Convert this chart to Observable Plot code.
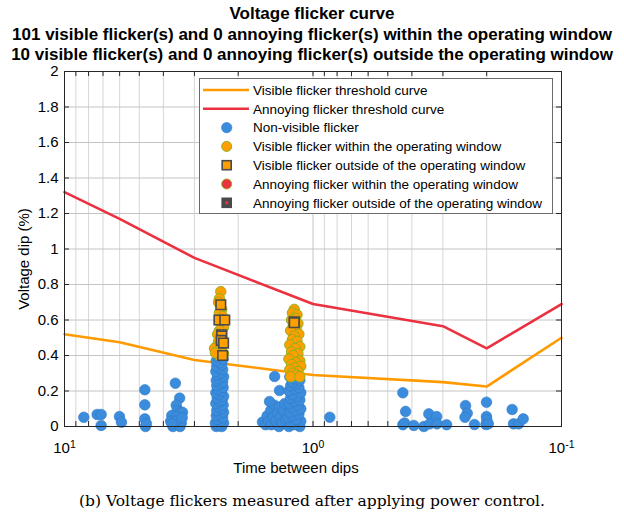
<!DOCTYPE html>
<html><head><meta charset="utf-8">
<script src="https://cdn.jsdelivr.net/npm/d3@7"></script>
<script src="https://cdn.jsdelivr.net/npm/@observablehq/plot@0.6"></script>
<style>
body{margin:0;background:#fff;}
#wrap{position:relative;width:624px;height:519px;overflow:hidden;font-family:"Liberation Sans",Arial,sans-serif;color:#000;}
.t{position:absolute;left:0;width:624px;text-align:center;font-weight:bold;font-size:17px;line-height:17px;white-space:nowrap;}
#plot{position:absolute;left:0;top:0;}
#xlabel{position:absolute;left:196px;width:200px;text-align:center;top:458px;font-size:15px;line-height:20px;}
#ylabel{position:absolute;left:24px;top:259px;font-size:15px;line-height:20px;transform:translate(-50%,-50%) rotate(-90deg);white-space:nowrap;}
#caption{position:absolute;left:0;width:624px;text-align:center;top:491px;font-family:"DejaVu Serif","Liberation Serif",serif;font-size:15.5px;line-height:20px;white-space:nowrap;}
#legend{position:absolute;left:199px;top:78px;}
</style></head>
<body>
<div id="wrap">
  <div class="t" style="top:5px">Voltage flicker curve</div>
  <div class="t" style="top:26px">101 visible flicker(s) and 0 annoying flicker(s) within the operating window</div>
  <div class="t" style="top:45.5px">10 visible flicker(s) and 0 annoying flicker(s) outside the operating window</div>
  <div id="plot"></div>
  <div id="ylabel">Voltage dip (%)</div>
  <div id="xlabel">Time between dips</div>
  <div id="caption">(b) Voltage flickers measured after applying power control.</div>
  <svg id="legend" width="354" height="136"></svg>
</div>
<script>
// ---- data ----
const curveT = [10, 6, 3, 1, 0.3, 0.2, 0.1];
const visibleThreshold = [0.52, 0.475, 0.375, 0.29, 0.25, 0.225, 0.50];
const annoyingThreshold = [1.32, 1.17, 0.95, 0.69, 0.565, 0.44, 0.69];

const xMajorTicks = [10, 1, 0.1];
const xMinorTicks = [9, 8, 7, 6, 5, 4, 3, 2, 0.9, 0.8, 0.7, 0.6, 0.5, 0.4, 0.3, 0.2];
const xTickExponents = ["1", "0", "-1"];
const yTicks = [0, 0.2, 0.4, 0.6, 0.8, 1, 1.2, 1.4, 1.6, 1.8, 2];

// non-visible flickers [time between dips, voltage dip %]
const nonVisibleScattered = [
  [8.36,0.052],[7.39,0.068],[7.12,0.068],[7.12,0.006],[6.01,0.056],[5.90,0.024],
  [4.75,0.207],[4.75,0.122],[4.75,0.043],[4.72,0.0],[4.68,0.015],
  [3.58,0.244],[3.44,0.16],[3.55,0.12],[3.52,0.09],[3.70,0.062],[3.41,0.081],[3.35,0.08],
  [3.74,0.03],[3.61,0.01],[3.48,0.04],[3.39,0.02],[3.66,0.0],[3.54,0.055],[3.43,0.0],[3.58,0.03],[3.36,0.05],[3.70,0.015],
  [0.856,0.052],
  [0.435,0.19],[0.424,0.085],[0.435,0.01],[0.428,0.02],[0.393,0.006],[0.358,0.0],[0.342,0.071],[0.339,0.015],
  [0.318,0.056],[0.317,0.015],[0.290,0.01],[0.2433,0.118],[0.2395,0.075],[0.2445,0.052],[0.224,0.011],
  [0.2004,0.137],[0.2004,0.056],[0.1998,0.038],[0.2014,0.011],[0.197,0.015],
  [0.158,0.096],[0.156,0.015],[0.1486,0.015],[0.1426,0.043]
];
const nonVisibleCluster1 = [
  [2.45,0.00],[2.33,0.00],[2.40,0.01],[2.29,0.02],[2.47,0.02],[2.36,0.03],[2.42,0.04],[2.31,0.05],[2.45,0.06],[2.38,0.07],
  [2.29,0.08],[2.44,0.09],[2.34,0.10],[2.40,0.11],[2.30,0.12],[2.46,0.13],[2.37,0.14],[2.32,0.15],[2.43,0.16],[2.29,0.17],
  [2.39,0.18],[2.46,0.19],[2.34,0.20],[2.41,0.21],[2.30,0.22],[2.44,0.23],[2.36,0.24],[2.31,0.25],[2.45,0.26],[2.38,0.27],
  [2.29,0.28],[2.42,0.29],[2.35,0.30],[2.46,0.31],[2.31,0.32],[2.40,0.33],[2.44,0.34],[2.33,0.35],[2.38,0.36],[2.45,0.37],
  [2.30,0.38],[2.41,0.39],[2.35,0.40],[2.43,0.41],[2.38,0.42]
];
const nonVisibleCluster2 = [
  [1.597,0.025],[1.55,0.01],[1.53,0.06],[1.509,0.03],[1.48,0.09],[1.469,0.01],[1.45,0.05],[1.429,0.12],[1.41,0.03],
  [1.39,0.08],[1.37,0.0],[1.36,0.11],[1.352,0.05],[1.33,0.02],[1.314,0.09],[1.30,0.13],[1.29,0.04],
  [1.427,0.282],[1.364,0.203],[1.496,0.141],
  [1.25,0.00],[1.13,0.00],[1.19,0.01],[1.23,0.02],[1.12,0.03],[1.17,0.04],[1.26,0.05],[1.21,0.06],[1.14,0.07],[1.24,0.08],
  [1.18,0.09],[1.12,0.10],[1.22,0.11],[1.15,0.12],[1.25,0.13],[1.19,0.14],[1.13,0.15],[1.23,0.16],[1.16,0.17],[1.21,0.18],
  [1.12,0.19],[1.25,0.20],[1.18,0.21],[1.14,0.22],[1.23,0.23],[1.17,0.24],[1.21,0.25],[1.13,0.26],[1.19,0.27],[1.24,0.28]
];
// visible flickers within the operating window
const visibleWithin = [
  [2.35,0.76],[2.38,0.72],[2.40,0.70],[2.33,0.66],[2.38,0.64],[2.31,0.62],[2.35,0.58],[2.29,0.56],[2.38,0.54],[2.42,0.52],
  [2.33,0.50],[2.40,0.48],[2.31,0.46],[2.45,0.45],[2.49,0.44],[2.35,0.43],[2.42,0.42],[2.29,0.41],[2.38,0.40],[2.47,0.415],
  [1.19,0.66],[1.21,0.64],[1.16,0.63],[1.18,0.61],[1.22,0.60],[1.15,0.58],[1.20,0.57],[1.17,0.55],[1.23,0.54],[1.14,0.52],
  [1.19,0.51],[1.21,0.49],[1.16,0.48],[1.24,0.46],[1.13,0.45],[1.18,0.44],[1.22,0.42],[1.15,0.41],[1.20,0.40],[1.25,0.38],
  [1.13,0.37],[1.17,0.36],[1.22,0.35],[1.12,0.34],[1.19,0.33],[1.24,0.32],[1.15,0.31],[1.21,0.30],[1.17,0.29],[1.23,0.28],[1.13,0.28]
];
// visible flickers outside the operating window
const visibleOutside = [
  [2.35,0.686],[2.39,0.60],[2.265,0.60],[2.33,0.517],[2.33,0.51],[2.34,0.485],[2.29,0.47],[2.31,0.40],
  [1.19,0.59],[1.19,0.585]
];
const legendLabels = [
  "Visible flicker threshold curve",
  "Annoying flicker threshold curve",
  "Non-visible flicker",
  "Visible flicker within the operating window",
  "Visible flicker outside of the operating window",
  "Annoying flicker within the operating window",
  "Annoying flicker outside of the operating window"
];

// ---- styles ----
const C = {
  visLine: "#ff9b00", annLine: "#eb3140",
  blue: "#3b8cdc", blueEdge: "#2f7ac6",
  orange: "#ff9f00", orangeEdge: "#8fb01e",
  sqEdge: "#4a4a4a", red: "#eb3140", dark: "#4a4a4a",
  grid: "#c4c4c4", gridMinor: "#d6d6d6", axis: "#262626"
};

const visData = curveT.map((t, i) => ({t, v: visibleThreshold[i]}));
const annData = curveT.map((t, i) => ({t, v: annoyingThreshold[i]}));
const allX = xMajorTicks.concat(xMinorTicks);
const tick = 0.028, xt = 0.955;

const chart = Plot.plot({
  width: 624, height: 519,
  marginTop: 71, marginBottom: 93, marginLeft: 64, marginRight: 63,
  style: {fontFamily: "'Liberation Sans', Arial, sans-serif", fontSize: "15px", background: "transparent", color: "#000"},
  x: {type: "log", domain: [10, 0.1]},
  y: {domain: [0, 2]},
  marks: [
    Plot.ruleX(xMinorTicks, {x: d => d, stroke: C.gridMinor}),
    Plot.ruleX(xMajorTicks, {x: d => d, stroke: C.grid}),
    Plot.ruleY(yTicks, {y: d => d, stroke: C.grid}),
    Plot.ruleX(allX, {x: d => d, y1: 0, y2: tick, stroke: C.axis}),
    Plot.ruleX(allX, {x: d => d, y1: 2 - tick, y2: 2, stroke: C.axis}),
    Plot.ruleY(yTicks, {y: d => d, x1: 10, x2: 10 * xt, stroke: C.axis}),
    Plot.ruleY(yTicks, {y: d => d, x1: 0.1, x2: 0.1 / xt, stroke: C.axis}),
    Plot.line(visData, {x: "t", y: "v", stroke: C.visLine, strokeWidth: 2.6}),
    Plot.line(annData, {x: "t", y: "v", stroke: C.annLine, strokeWidth: 2.6}),
    Plot.dot(nonVisibleScattered.concat(nonVisibleCluster1, nonVisibleCluster2), {x: d => d[0], y: d => d[1], r: 5.3, fill: C.blue, stroke: C.blueEdge, strokeWidth: 0.6, fillOpacity: 1}),
    Plot.dot(visibleWithin, {x: d => d[0], y: d => d[1], r: 5.2, fill: C.orange, stroke: C.orangeEdge, strokeWidth: 1, fillOpacity: 1}),
    Plot.dot(visibleOutside, {x: d => d[0], y: d => d[1], symbol: "square", r: 5.4, fill: C.orange, stroke: C.sqEdge, strokeWidth: 1.6, fillOpacity: 1}),
    Plot.frame({stroke: C.axis, strokeWidth: 1}),
    Plot.axisX(xMajorTicks, {tickSize: 0, tickPadding: 16, fontSize: 15, tickFormat: d => "10", label: null}),
    Plot.axisY(yTicks, {tickSize: 0, tickPadding: 6, fontSize: 15, tickFormat: d => String(d), label: null})
  ]
});
document.getElementById("plot").appendChild(chart);

// superscript exponents on x tick labels
d3.select(chart).selectAll('g[aria-label="x-axis tick label"] text').each(function(d, i) {
  const el = d3.select(this);
  el.text("");
  el.append("tspan").text("10");
  el.append("tspan").attr("dy", "-0.45em").attr("font-size", "10.5px").text(xTickExponents[i]);
});

// legend
const lg = d3.select("#legend");
lg.append("rect").attr("x", 0.5).attr("y", 0.5).attr("width", 353).attr("height", 135)
  .attr("fill", "#fff").attr("stroke", "#6b6b6b").attr("stroke-width", 1);
const rowY = i => 12 + i * 18.8;
const icons = [
  g => g.append("line").attr("x1", 4).attr("x2", 50).attr("stroke", C.visLine).attr("stroke-width", 2.6),
  g => g.append("line").attr("x1", 4).attr("x2", 50).attr("stroke", C.annLine).attr("stroke-width", 2.6),
  g => g.append("circle").attr("cx", 27.7).attr("r", 5.2).attr("fill", C.blue).attr("stroke", C.blueEdge).attr("stroke-width", 0.6),
  g => g.append("circle").attr("cx", 27.7).attr("r", 5).attr("fill", C.orange).attr("stroke", C.orangeEdge).attr("stroke-width", 1),
  g => g.append("rect").attr("x", 23.2).attr("y", -4.5).attr("width", 9).attr("height", 9).attr("fill", C.orange).attr("stroke", C.sqEdge).attr("stroke-width", 1.6),
  g => g.append("circle").attr("cx", 27.7).attr("r", 5).attr("fill", C.red).attr("stroke", C.orangeEdge).attr("stroke-width", 1),
  g => { g.append("rect").attr("x", 23.2).attr("y", -4.5).attr("width", 9).attr("height", 9).attr("fill", C.dark).attr("stroke", C.sqEdge).attr("stroke-width", 1.6);
         g.append("rect").attr("x", 26.2).attr("y", -1.5).attr("width", 3).attr("height", 3).attr("fill", C.red); }
];
legendLabels.forEach((lab, i) => {
  const g = lg.append("g").attr("transform", `translate(0,${rowY(i)})`);
  icons[i](g);
  g.append("text").attr("x", 54).attr("dy", "0.35em").attr("font-size", "13.5px")
    .attr("font-family", "'Liberation Sans', Arial, sans-serif").text(lab);
});
</script>
</body></html>
